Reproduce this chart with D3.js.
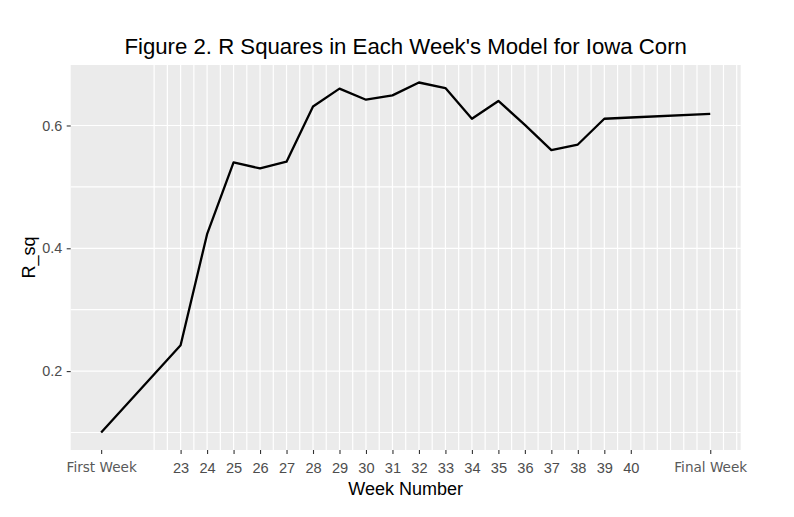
<!DOCTYPE html>
<html>
<head>
<meta charset="utf-8">
<script src="https://cdn.jsdelivr.net/npm/d3@7"></script>
<style>
  html, body { margin: 0; padding: 0; background: #fff; }
  svg { display: block; }
</style>
</head>
<body>
<svg id="chart" width="794" height="517"></svg>
<script>
// ---- data ----
const weeks = [20, 23, 24, 25, 26, 27, 28, 29, 30, 31, 32, 33, 34, 35, 36, 37, 38, 39, 40, 43];
const rsq   = [0.100, 0.242, 0.423, 0.540, 0.530, 0.541, 0.631, 0.660, 0.642, 0.649,
               0.670, 0.661, 0.611, 0.640, 0.601, 0.560, 0.569, 0.611, 0.613, 0.619];
const xTickValues = [20, 23, 24, 25, 26, 27, 28, 29, 30, 31, 32, 33, 34, 35, 36, 37, 38, 39, 40, 43];
const xTickLabels = ["First Week", "23", "24", "25", "26", "27", "28", "29", "30", "31", "32",
                     "33", "34", "35", "36", "37", "38", "39", "40", "Final Week"];
const yTickValues = [0.2, 0.4, 0.6];
const yTickLabels = ["0.2", "0.4", "0.6"];
const yGridValues = [0.1, 0.2, 0.3, 0.4, 0.5, 0.6];
const xGridStart = 22, xGridEnd = 44, xGridStep = 0.5;

const titleText = "Figure 2. R Squares in Each Week's Model for Iowa Corn";
const xTitle = "Week Number";
const yTitle = "R_sq";

// ---- layout ----
const panel = { left: 70.7, right: 740.7, top: 65, bottom: 450 };
const svg = d3.select("#chart");

const xMin = d3.min(weeks), xMax = d3.max(weeks);
const xPad = (xMax - xMin) * 0.05;
const yMin = d3.min(rsq), yMax = d3.max(rsq);
const yPad = (yMax - yMin) * 0.05;

const x = d3.scaleLinear().domain([xMin - xPad, xMax + xPad]).range([panel.left, panel.right]);
const y = d3.scaleLinear().domain([yMin - yPad, yMax + yPad]).range([panel.bottom, panel.top]);

// panel background
svg.append("rect")
  .attr("x", panel.left).attr("y", panel.top)
  .attr("width", panel.right - panel.left).attr("height", panel.bottom - panel.top)
  .attr("fill", "#EBEBEB");

// gridlines
const xGrid = d3.range(xGridStart, xGridEnd + 1e-9, xGridStep);
svg.append("g").selectAll("line").data(xGrid).join("line")
  .attr("x1", d => x(d)).attr("x2", d => x(d))
  .attr("y1", panel.top).attr("y2", panel.bottom)
  .attr("stroke", "#fff").attr("stroke-width", 1.2);
svg.append("g").selectAll("line").data(yGridValues).join("line")
  .attr("x1", panel.left).attr("x2", panel.right)
  .attr("y1", d => y(d)).attr("y2", d => y(d))
  .attr("stroke", "#fff").attr("stroke-width", 1.2);

// line
const pts = weeks.map((w, i) => [w, rsq[i]]);
svg.append("path")
  .datum(pts)
  .attr("fill", "none")
  .attr("stroke", "#000")
  .attr("stroke-width", 2.3)
  .attr("stroke-linejoin", "round")
  .attr("d", d3.line().x(d => x(d[0])).y(d => y(d[1])));

// x axis
const xAxis = d3.axisBottom(x)
  .tickValues(xTickValues)
  .tickFormat((d, i) => xTickLabels[i])
  .tickSize(4).tickPadding(8.5);
const gx = svg.append("g").attr("transform", `translate(0,${panel.bottom})`).call(xAxis);
gx.select(".domain").remove();
gx.selectAll(".tick line").attr("stroke", "#333").attr("stroke-width", 1.1);
gx.selectAll(".tick text")
  .attr("fill", "#4D4D4D")
  .attr("font-family", "Liberation Sans, Arial, sans-serif")
  .attr("font-size", 14.6)
  .each(function(d, i) {
    const lbl = xTickLabels[i];
    if (isNaN(+lbl)) {
      d3.select(this).attr("font-family", "DejaVu Sans, sans-serif")
        .attr("font-size", 13.6).attr("fill", "#595959");
    }
  });

// y axis
const yAxis = d3.axisLeft(y)
  .tickValues(yTickValues)
  .tickFormat((d, i) => yTickLabels[i])
  .tickSize(4).tickPadding(4.5);
const gy = svg.append("g").attr("transform", `translate(${panel.left},0)`).call(yAxis);
gy.select(".domain").remove();
gy.selectAll(".tick line").attr("stroke", "#333").attr("stroke-width", 1.1);
gy.selectAll(".tick text")
  .attr("fill", "#4D4D4D")
  .attr("font-family", "Liberation Sans, Arial, sans-serif")
  .attr("font-size", 14.4);

// titles
const cx = (panel.left + panel.right) / 2;
svg.append("text")
  .attr("x", cx).attr("y", 54)
  .attr("text-anchor", "middle")
  .attr("font-family", "Liberation Sans, Arial, sans-serif")
  .attr("font-size", 22.2)
  .attr("fill", "#000")
  .text(titleText);

svg.append("text")
  .attr("x", cx).attr("y", 495)
  .attr("text-anchor", "middle")
  .attr("font-family", "Liberation Sans, Arial, sans-serif")
  .attr("font-size", 18)
  .attr("fill", "#000")
  .text(xTitle);

svg.append("text")
  .attr("transform", `translate(35,${(panel.top + panel.bottom) / 2}) rotate(-90)`)
  .attr("text-anchor", "middle")
  .attr("font-family", "Liberation Sans, Arial, sans-serif")
  .attr("font-size", 18)
  .attr("fill", "#000")
  .text(yTitle);
</script>
</body>
</html>
